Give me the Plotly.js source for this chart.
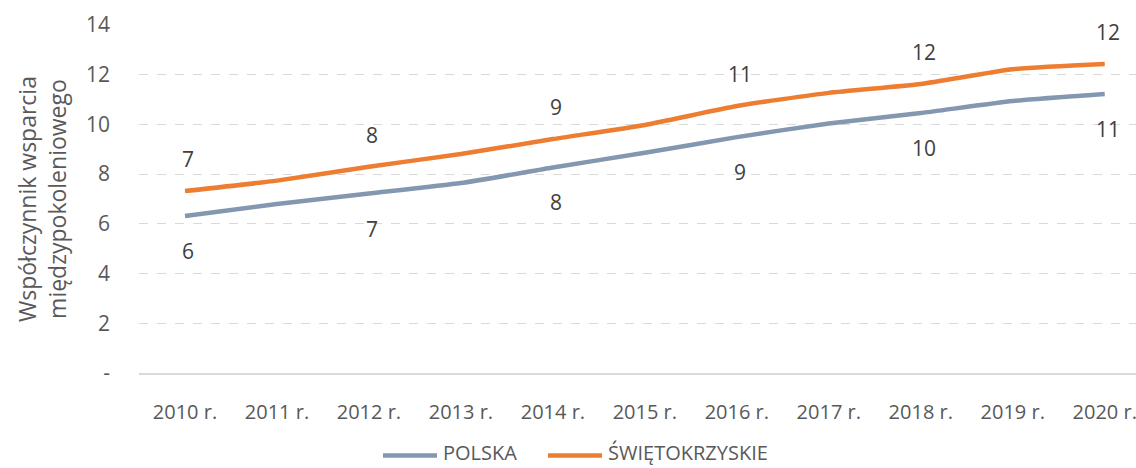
<!DOCTYPE html>
<html>
<head>
<meta charset="utf-8">
<script src="https://cdn.plot.ly/plotly-3.0.1.min.js"></script>
<style>html,body{margin:0;padding:0;background:#fff;}#chart{width:1136px;height:468px;}</style>
</head>
<body>
<div id="chart"></div>
<script>
var years = ["2010 r.","2011 r.","2012 r.","2013 r.","2014 r.","2015 r.","2016 r.","2017 r.","2018 r.","2019 r.","2020 r."];
var polska = [6.32, 6.80, 7.22, 7.64, 8.27, 8.86, 9.49, 10.04, 10.46, 10.94, 11.22];
var swietokrzyskie = [7.32, 7.74, 8.30, 8.81, 9.41, 9.98, 10.74, 11.27, 11.63, 12.22, 12.43];
var yTickVals = [0, 2, 4, 6, 8, 10, 12, 14];
var yTickText = ["-", "2", "4", "6", "8", "10", "12", "14"];
var seriesNames = ["POLSKA", "ŚWIĘTOKRZYSKIE"];
var seriesColors = ["#8497B0", "#ED7D31"];
var yTitle = "Współczynnik wsparcia<br>międzypokoleniowego";

var font = "Open Sans, Segoe UI, sans-serif";
var traces = [
  {x: years, y: polska, name: seriesNames[0], type: "scatter", mode: "lines",
   line: {color: seriesColors[0], width: 4.5, shape: "spline", smoothing: 0.5}},
  {x: years, y: swietokrzyskie, name: seriesNames[1], type: "scatter", mode: "lines",
   line: {color: seriesColors[1], width: 4.5, shape: "spline", smoothing: 0.5}}
];

var annotations = [];
years.forEach(function(yr, i) {
  if (i % 2 !== 0) return;
  annotations.push({x: yr, y: swietokrzyskie[i], xref: "x", yref: "y", text: String(Math.round(swietokrzyskie[i])),
    showarrow: false, yshift: 32, xshift: 3, font: {family: font, size: 21, color: "#404040"}});
  annotations.push({x: yr, y: polska[i], xref: "x", yref: "y", text: String(Math.round(polska[i])),
    showarrow: false, yshift: -35, xshift: 3, font: {family: font, size: 21, color: "#404040"}});
});
annotations.push({xref: "paper", yref: "paper", x: -97/997, y: 0.5, xanchor: "center", yanchor: "middle",
  textangle: -90, text: yTitle, showarrow: false, font: {family: font, size: 23, color: "#595959"}});

// custom legend (pixel layout converted to paper units)
var plotL = 139, plotW = 997, plotB = 373, plotH = 348;
function px(x) { return (x - plotL) / plotW; }
function py(y) { return (plotB - y) / plotH; }
var legendItems = [{x0: 383, x1: 437, tx: 442}, {x0: 548, x1: 602, tx: 607}];
var shapes = [];
legendItems.forEach(function(it, i) {
  shapes.push({type: "line", xref: "paper", yref: "paper", x0: px(it.x0), x1: px(it.x1), y0: py(455.5), y1: py(455.5),
    line: {color: seriesColors[i], width: 4.5}});
  annotations.push({xref: "paper", yref: "paper", x: px(it.tx), y: py(467), xanchor: "left", yanchor: "bottom",
    text: seriesNames[i], showarrow: false, borderpad: 0, font: {family: font, size: 20, color: "#595959"}});
});

var layout = {
  width: 1136, height: 468,
  margin: {l: 139, r: 0, t: 25, b: 95},
  paper_bgcolor: "#fff", plot_bgcolor: "#fff",
  font: {family: font, size: 21, color: "#595959"},
  showlegend: false,
  xaxis: {type: "category", range: [-0.5, 10.34], showgrid: false, zeroline: false, automargin: false,
    showline: true, linecolor: "#d9d9d9", linewidth: 1.5, ticks: "", ticklabelstandoff: 20,
    tickfont: {family: font, size: 20, color: "#595959"}, fixedrange: true},
  yaxis: {range: [0, 14], tickvals: yTickVals, ticktext: yTickText, showgrid: true, automargin: false,
    gridcolor: "#d9d9d9", griddash: "dash", gridwidth: 1, zeroline: false, showline: false,
    ticks: "", ticklabelstandoff: 28, tickfont: {family: font, size: 21, color: "#595959"}, fixedrange: true},
  shapes: shapes,
  annotations: annotations
};

Plotly.newPlot("chart", traces, layout, {displayModeBar: false, staticPlot: true});
</script>
</body>
</html>
